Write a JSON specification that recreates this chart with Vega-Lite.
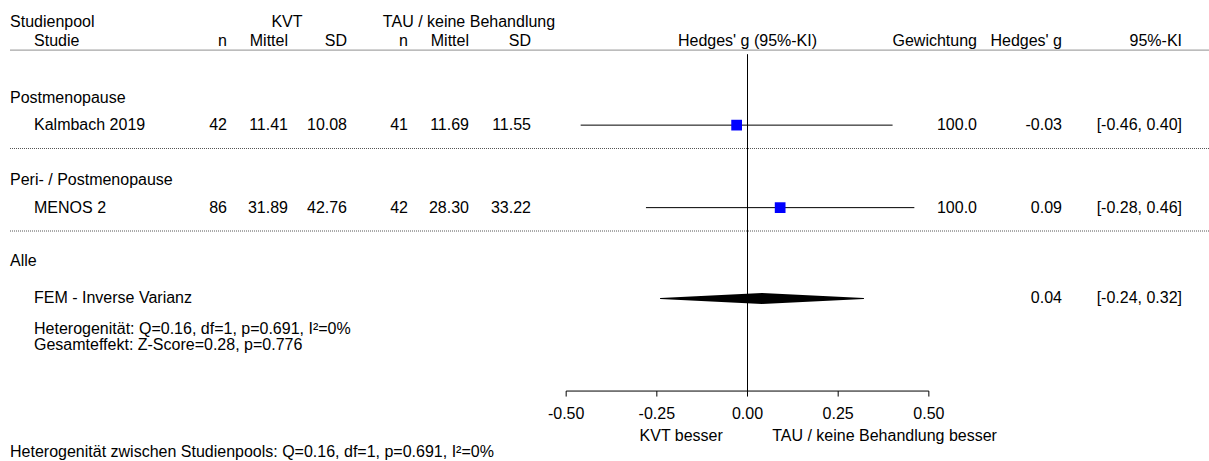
{
  "$schema": "https://vega.github.io/schema/vega-lite/v6.json",
  "width": 1209,
  "height": 461,
  "padding": 0,
  "autosize": "none",
  "background": "white",
  "config": {
    "view": {"stroke": null},
    "text": {"font": "Liberation Sans", "fontSize": 16, "baseline": "middle", "color": "#000000"}
  },
  "datasets": {
    "zeilen": [
      {"typ": "Studie", "label": "Kalmbach 2019", "row": 4, "n1": 42, "mean1": 11.41, "sd1": 10.08, "n2": 41, "mean2": 11.69, "sd2": 11.55, "weight": 100.0, "g": -0.03, "lo": -0.46, "hi": 0.40, "gText": "-0.03", "ci": "[-0.46, 0.40]"},
      {"typ": "Studie", "label": "MENOS 2", "row": 7, "n1": 86, "mean1": 31.89, "sd1": 42.76, "n2": 42, "mean2": 28.30, "sd2": 33.22, "weight": 100.0, "g": 0.09, "lo": -0.28, "hi": 0.46, "gText": "0.09", "ci": "[-0.28, 0.46]"},
      {"typ": "Gesamt", "label": "FEM - Inverse Varianz", "row": 10.3, "g": 0.04, "lo": -0.24, "hi": 0.32, "gText": "0.04", "ci": "[-0.24, 0.32]"}
    ],
    "kopf": [
      {"spalte": "pool", "text": "Studienpool", "row": 0.25},
      {"spalte": "name", "text": "Studie", "row": 0.95},
      {"spalte": "kvt", "text": "KVT", "row": 0.25},
      {"spalte": "tau", "text": "TAU / keine Behandlung", "row": 0.25},
      {"spalte": "n1", "text": "n", "row": 0.95},
      {"spalte": "mean1", "text": "Mittel", "row": 0.95},
      {"spalte": "sd1", "text": "SD", "row": 0.95},
      {"spalte": "n2", "text": "n", "row": 0.95},
      {"spalte": "mean2", "text": "Mittel", "row": 0.95},
      {"spalte": "sd2", "text": "SD", "row": 0.95},
      {"spalte": "forest", "text": "Hedges' g (95%-KI)", "row": 0.95},
      {"spalte": "weight", "text": "Gewichtung", "row": 0.95},
      {"spalte": "gText", "text": "Hedges' g", "row": 0.95},
      {"spalte": "ci", "text": "95%-KI", "row": 0.95}
    ],
    "links": [
      {"text": "Postmenopause", "row": 3},
      {"text": "Peri- / Postmenopause", "row": 6},
      {"text": "Alle", "row": 8.95},
      {"text": "Heterogenität zwischen Studienpools: Q=0.16, df=1, p=0.691, I²=0%", "row": 15.9}
    ],
    "notizen": [
      {"text": "Heterogenität: Q=0.16, df=1, p=0.691, I²=0%", "row": 11.42},
      {"text": "Gesamteffekt: Z-Score=0.28, p=0.776", "row": 11.99}
    ],
    "linien": [
      {"art": "Kopf", "row": 1.27},
      {"art": "Trenner", "row": 4.85},
      {"art": "Trenner", "row": 7.85}
    ],
    "referenz": [{"wert": 0}],
    "achse": [
      {"tick": -0.5, "label": "-0.50"},
      {"tick": -0.25, "label": "-0.25"},
      {"tick": 0, "label": "0.00"},
      {"tick": 0.25, "label": "0.25"},
      {"tick": 0.5, "label": "0.50"}
    ],
    "seiten": [
      {"seite": "links", "text": "KVT besser"},
      {"seite": "rechts", "text": "TAU / keine Behandlung besser"}
    ]
  },
  "layer": [
    {
      "data": {"name": "linien"},
      "transform": [{"filter": "datum.art === 'Kopf'"}],
      "mark": {"type": "rule", "color": "#a6a6a6", "strokeWidth": 1.2},
      "encoding": {
        "x": {"datum": -2.0334, "type": "quantitative", "scale": {"domain": [-2.061, 1.2724], "nice": false, "zero": false}, "axis": null},
        "x2": {"datum": 1.2724},
        "y": {"field": "row", "type": "quantitative", "scale": {"domain": [-0.55, 16.2136], "reverse": true, "nice": false, "zero": false}, "axis": null}
      }
    },
    {
      "data": {"name": "linien"},
      "transform": [{"filter": "datum.art === 'Trenner'"}],
      "mark": {"type": "rule", "color": "#555555", "strokeWidth": 1, "strokeDash": [1, 1]},
      "encoding": {
        "x": {"datum": -2.0334, "type": "quantitative", "scale": {"domain": [-2.061, 1.2724], "nice": false, "zero": false}, "axis": null},
        "x2": {"datum": 1.2724},
        "y": {"field": "row", "type": "quantitative", "scale": {"domain": [-0.55, 16.2136], "reverse": true, "nice": false, "zero": false}, "axis": null}
      }
    },
    {
      "data": {"name": "referenz"},
      "mark": {"type": "rule", "color": "#000000", "strokeWidth": 1},
      "encoding": {
        "x": {"field": "wert", "type": "quantitative", "scale": {"domain": [-2.061, 1.2724], "nice": false, "zero": false}, "axis": null},
        "y": {"datum": 1.42, "type": "quantitative", "scale": {"domain": [-0.55, 16.2136], "reverse": true, "nice": false, "zero": false}, "axis": null},
        "y2": {"datum": 13.67}
      }
    },
    {
      "data": {"name": "achse"},
      "transform": [{"aggregate": [{"op": "min", "field": "tick", "as": "von"}, {"op": "max", "field": "tick", "as": "bis"}]}],
      "mark": {"type": "rule", "color": "#000000", "strokeWidth": 1},
      "encoding": {
        "x": {"field": "von", "type": "quantitative", "scale": {"domain": [-2.061, 1.2724], "nice": false, "zero": false}, "axis": null},
        "x2": {"field": "bis"},
        "y": {"datum": 13.67, "type": "quantitative", "scale": {"domain": [-0.55, 16.2136], "reverse": true, "nice": false, "zero": false}, "axis": null}
      }
    },
    {
      "data": {"name": "achse"},
      "mark": {"type": "rule", "color": "#000000", "strokeWidth": 1},
      "encoding": {
        "x": {"field": "tick", "type": "quantitative", "scale": {"domain": [-2.061, 1.2724], "nice": false, "zero": false}, "axis": null},
        "y": {"datum": 13.67, "type": "quantitative", "scale": {"domain": [-0.55, 16.2136], "reverse": true, "nice": false, "zero": false}, "axis": null},
        "y2": {"datum": 13.87}
      }
    },
    {
      "data": {"name": "achse"},
      "mark": {"type": "text", "align": "center"},
      "encoding": {
        "x": {"field": "tick", "type": "quantitative", "scale": {"domain": [-2.061, 1.2724], "nice": false, "zero": false}, "axis": null},
        "y": {"datum": 14.5, "type": "quantitative", "scale": {"domain": [-0.55, 16.2136], "reverse": true, "nice": false, "zero": false}, "axis": null},
        "text": {"field": "label"}
      }
    },
    {
      "data": {"name": "seiten"},
      "transform": [{"filter": "datum.seite === 'links'"}],
      "mark": {"type": "text", "align": "right"},
      "encoding": {
        "x": {"datum": -0.068, "type": "quantitative", "scale": {"domain": [-2.061, 1.2724], "nice": false, "zero": false}, "axis": null},
        "y": {"datum": 15.3, "type": "quantitative", "scale": {"domain": [-0.55, 16.2136], "reverse": true, "nice": false, "zero": false}, "axis": null},
        "text": {"field": "text"}
      }
    },
    {
      "data": {"name": "seiten"},
      "transform": [{"filter": "datum.seite === 'rechts'"}],
      "mark": {"type": "text", "align": "left"},
      "encoding": {
        "x": {"datum": 0.068, "type": "quantitative", "scale": {"domain": [-2.061, 1.2724], "nice": false, "zero": false}, "axis": null},
        "y": {"datum": 15.3, "type": "quantitative", "scale": {"domain": [-0.55, 16.2136], "reverse": true, "nice": false, "zero": false}, "axis": null},
        "text": {"field": "text"}
      }
    },
    {
      "data": {"name": "zeilen"},
      "transform": [{"filter": "datum.typ === 'Studie'"}],
      "mark": {"type": "rule", "color": "#000000", "strokeWidth": 1},
      "encoding": {
        "x": {"field": "lo", "type": "quantitative", "scale": {"domain": [-2.061, 1.2724], "nice": false, "zero": false}, "axis": null},
        "x2": {"field": "hi"},
        "y": {"field": "row", "type": "quantitative", "scale": {"domain": [-0.55, 16.2136], "reverse": true, "nice": false, "zero": false}, "axis": null}
      }
    },
    {
      "data": {"name": "zeilen"},
      "transform": [{"filter": "datum.typ === 'Studie'"}],
      "mark": {"type": "point", "shape": "square", "filled": true, "color": "#0000ff", "opacity": 1, "size": 115},
      "encoding": {
        "x": {"field": "g", "type": "quantitative", "scale": {"domain": [-2.061, 1.2724], "nice": false, "zero": false}, "axis": null},
        "y": {"field": "row", "type": "quantitative", "scale": {"domain": [-0.55, 16.2136], "reverse": true, "nice": false, "zero": false}, "axis": null}
      }
    },
    {
      "data": {"name": "zeilen"},
      "transform": [
        {"filter": "datum.typ === 'Gesamt'"},
        {"fold": ["lo", "g", "hi"], "as": ["punkt", "wert"]}
      ],
      "mark": {"type": "trail", "color": "#000000"},
      "encoding": {
        "x": {"field": "wert", "type": "quantitative", "scale": {"domain": [-2.061, 1.2724], "nice": false, "zero": false}, "axis": null},
        "y": {"field": "row", "type": "quantitative", "scale": {"domain": [-0.55, 16.2136], "reverse": true, "nice": false, "zero": false}, "axis": null},
        "size": {"condition": {"test": "datum.punkt === 'g'", "value": 11}, "value": 0}
      }
    },
    {
      "encoding": {"x": {"datum": -2.0334, "type": "quantitative", "scale": {"domain": [-2.061, 1.2724], "nice": false, "zero": false}, "axis": null}},
      "layer": [
        {
          "data": {"name": "kopf"},
          "transform": [{"filter": "datum.spalte === 'pool'"}],
          "mark": {"type": "text", "align": "left"},
          "encoding": {"y": {"field": "row", "type": "quantitative", "scale": {"domain": [-0.55, 16.2136], "reverse": true, "nice": false, "zero": false}, "axis": null}, "text": {"field": "text"}}
        },
        {
          "data": {"name": "links"},
          "mark": {"type": "text", "align": "left"},
          "encoding": {"y": {"field": "row", "type": "quantitative", "scale": {"domain": [-0.55, 16.2136], "reverse": true, "nice": false, "zero": false}, "axis": null}, "text": {"field": "text"}}
        }
      ]
    },
    {
      "encoding": {"x": {"datum": -1.9672, "type": "quantitative", "scale": {"domain": [-2.061, 1.2724], "nice": false, "zero": false}, "axis": null}},
      "layer": [
        {
          "data": {"name": "kopf"},
          "transform": [{"filter": "datum.spalte === 'name'"}],
          "mark": {"type": "text", "align": "left"},
          "encoding": {"y": {"field": "row", "type": "quantitative", "scale": {"domain": [-0.55, 16.2136], "reverse": true, "nice": false, "zero": false}, "axis": null}, "text": {"field": "text"}}
        },
        {
          "data": {"name": "zeilen"},
          "mark": {"type": "text", "align": "left"},
          "encoding": {"y": {"field": "row", "type": "quantitative", "scale": {"domain": [-0.55, 16.2136], "reverse": true, "nice": false, "zero": false}, "axis": null}, "text": {"field": "label"}}
        },
        {
          "data": {"name": "notizen"},
          "mark": {"type": "text", "align": "left"},
          "encoding": {"y": {"field": "row", "type": "quantitative", "scale": {"domain": [-0.55, 16.2136], "reverse": true, "nice": false, "zero": false}, "axis": null}, "text": {"field": "text"}}
        }
      ]
    },
    {
      "data": {"name": "kopf"},
      "transform": [{"filter": "datum.spalte === 'kvt'"}],
      "mark": {"type": "text", "align": "center"},
      "encoding": {
        "x": {"datum": -1.2697, "type": "quantitative", "scale": {"domain": [-2.061, 1.2724], "nice": false, "zero": false}, "axis": null},
        "y": {"field": "row", "type": "quantitative", "scale": {"domain": [-0.55, 16.2136], "reverse": true, "nice": false, "zero": false}, "axis": null},
        "text": {"field": "text"}
      }
    },
    {
      "data": {"name": "kopf"},
      "transform": [{"filter": "datum.spalte === 'tau'"}],
      "mark": {"type": "text", "align": "center"},
      "encoding": {
        "x": {"datum": -0.7679, "type": "quantitative", "scale": {"domain": [-2.061, 1.2724], "nice": false, "zero": false}, "axis": null},
        "y": {"field": "row", "type": "quantitative", "scale": {"domain": [-0.55, 16.2136], "reverse": true, "nice": false, "zero": false}, "axis": null},
        "text": {"field": "text"}
      }
    },
    {
      "data": {"name": "kopf"},
      "transform": [{"filter": "datum.spalte === 'forest'"}],
      "mark": {"type": "text", "align": "center"},
      "encoding": {
        "x": {"datum": 0, "type": "quantitative", "scale": {"domain": [-2.061, 1.2724], "nice": false, "zero": false}, "axis": null},
        "y": {"field": "row", "type": "quantitative", "scale": {"domain": [-0.55, 16.2136], "reverse": true, "nice": false, "zero": false}, "axis": null},
        "text": {"field": "text"}
      }
    },
    {
      "encoding": {"x": {"datum": -1.4351, "type": "quantitative", "scale": {"domain": [-2.061, 1.2724], "nice": false, "zero": false}, "axis": null}},
      "layer": [
        {"data": {"name": "kopf"}, "transform": [{"filter": "datum.spalte === 'n1'"}], "mark": {"type": "text", "align": "right"},
         "encoding": {"y": {"field": "row", "type": "quantitative", "scale": {"domain": [-0.55, 16.2136], "reverse": true, "nice": false, "zero": false}, "axis": null}, "text": {"field": "text"}}},
        {"data": {"name": "zeilen"}, "transform": [{"filter": "datum.typ === 'Studie'"}], "mark": {"type": "text", "align": "right"},
         "encoding": {"y": {"field": "row", "type": "quantitative", "scale": {"domain": [-0.55, 16.2136], "reverse": true, "nice": false, "zero": false}, "axis": null}, "text": {"field": "n1", "type": "quantitative", "format": "d"}}}
      ]
    },
    {
      "encoding": {"x": {"datum": -1.2669, "type": "quantitative", "scale": {"domain": [-2.061, 1.2724], "nice": false, "zero": false}, "axis": null}},
      "layer": [
        {"data": {"name": "kopf"}, "transform": [{"filter": "datum.spalte === 'mean1'"}], "mark": {"type": "text", "align": "right"},
         "encoding": {"y": {"field": "row", "type": "quantitative", "scale": {"domain": [-0.55, 16.2136], "reverse": true, "nice": false, "zero": false}, "axis": null}, "text": {"field": "text"}}},
        {"data": {"name": "zeilen"}, "transform": [{"filter": "datum.typ === 'Studie'"}], "mark": {"type": "text", "align": "right"},
         "encoding": {"y": {"field": "row", "type": "quantitative", "scale": {"domain": [-0.55, 16.2136], "reverse": true, "nice": false, "zero": false}, "axis": null}, "text": {"field": "mean1", "type": "quantitative", "format": ".2f"}}}
      ]
    },
    {
      "encoding": {"x": {"datum": -1.1042, "type": "quantitative", "scale": {"domain": [-2.061, 1.2724], "nice": false, "zero": false}, "axis": null}},
      "layer": [
        {"data": {"name": "kopf"}, "transform": [{"filter": "datum.spalte === 'sd1'"}], "mark": {"type": "text", "align": "right"},
         "encoding": {"y": {"field": "row", "type": "quantitative", "scale": {"domain": [-0.55, 16.2136], "reverse": true, "nice": false, "zero": false}, "axis": null}, "text": {"field": "text"}}},
        {"data": {"name": "zeilen"}, "transform": [{"filter": "datum.typ === 'Studie'"}], "mark": {"type": "text", "align": "right"},
         "encoding": {"y": {"field": "row", "type": "quantitative", "scale": {"domain": [-0.55, 16.2136], "reverse": true, "nice": false, "zero": false}, "axis": null}, "text": {"field": "sd1", "type": "quantitative", "format": ".2f"}}}
      ]
    },
    {
      "encoding": {"x": {"datum": -0.9361, "type": "quantitative", "scale": {"domain": [-2.061, 1.2724], "nice": false, "zero": false}, "axis": null}},
      "layer": [
        {"data": {"name": "kopf"}, "transform": [{"filter": "datum.spalte === 'n2'"}], "mark": {"type": "text", "align": "right"},
         "encoding": {"y": {"field": "row", "type": "quantitative", "scale": {"domain": [-0.55, 16.2136], "reverse": true, "nice": false, "zero": false}, "axis": null}, "text": {"field": "text"}}},
        {"data": {"name": "zeilen"}, "transform": [{"filter": "datum.typ === 'Studie'"}], "mark": {"type": "text", "align": "right"},
         "encoding": {"y": {"field": "row", "type": "quantitative", "scale": {"domain": [-0.55, 16.2136], "reverse": true, "nice": false, "zero": false}, "axis": null}, "text": {"field": "n2", "type": "quantitative", "format": "d"}}}
      ]
    },
    {
      "encoding": {"x": {"datum": -0.7679, "type": "quantitative", "scale": {"domain": [-2.061, 1.2724], "nice": false, "zero": false}, "axis": null}},
      "layer": [
        {"data": {"name": "kopf"}, "transform": [{"filter": "datum.spalte === 'mean2'"}], "mark": {"type": "text", "align": "right"},
         "encoding": {"y": {"field": "row", "type": "quantitative", "scale": {"domain": [-0.55, 16.2136], "reverse": true, "nice": false, "zero": false}, "axis": null}, "text": {"field": "text"}}},
        {"data": {"name": "zeilen"}, "transform": [{"filter": "datum.typ === 'Studie'"}], "mark": {"type": "text", "align": "right"},
         "encoding": {"y": {"field": "row", "type": "quantitative", "scale": {"domain": [-0.55, 16.2136], "reverse": true, "nice": false, "zero": false}, "axis": null}, "text": {"field": "mean2", "type": "quantitative", "format": ".2f"}}}
      ]
    },
    {
      "encoding": {"x": {"datum": -0.5969, "type": "quantitative", "scale": {"domain": [-2.061, 1.2724], "nice": false, "zero": false}, "axis": null}},
      "layer": [
        {"data": {"name": "kopf"}, "transform": [{"filter": "datum.spalte === 'sd2'"}], "mark": {"type": "text", "align": "right"},
         "encoding": {"y": {"field": "row", "type": "quantitative", "scale": {"domain": [-0.55, 16.2136], "reverse": true, "nice": false, "zero": false}, "axis": null}, "text": {"field": "text"}}},
        {"data": {"name": "zeilen"}, "transform": [{"filter": "datum.typ === 'Studie'"}], "mark": {"type": "text", "align": "right"},
         "encoding": {"y": {"field": "row", "type": "quantitative", "scale": {"domain": [-0.55, 16.2136], "reverse": true, "nice": false, "zero": false}, "axis": null}, "text": {"field": "sd2", "type": "quantitative", "format": ".2f"}}}
      ]
    },
    {
      "encoding": {"x": {"datum": 0.6328, "type": "quantitative", "scale": {"domain": [-2.061, 1.2724], "nice": false, "zero": false}, "axis": null}},
      "layer": [
        {"data": {"name": "kopf"}, "transform": [{"filter": "datum.spalte === 'weight'"}], "mark": {"type": "text", "align": "right"},
         "encoding": {"y": {"field": "row", "type": "quantitative", "scale": {"domain": [-0.55, 16.2136], "reverse": true, "nice": false, "zero": false}, "axis": null}, "text": {"field": "text"}}},
        {"data": {"name": "zeilen"}, "transform": [{"filter": "datum.typ === 'Studie'"}], "mark": {"type": "text", "align": "right"},
         "encoding": {"y": {"field": "row", "type": "quantitative", "scale": {"domain": [-0.55, 16.2136], "reverse": true, "nice": false, "zero": false}, "axis": null}, "text": {"field": "weight", "type": "quantitative", "format": ".1f"}}}
      ]
    },
    {
      "encoding": {"x": {"datum": 0.8671, "type": "quantitative", "scale": {"domain": [-2.061, 1.2724], "nice": false, "zero": false}, "axis": null}},
      "layer": [
        {"data": {"name": "kopf"}, "transform": [{"filter": "datum.spalte === 'gText'"}], "mark": {"type": "text", "align": "right"},
         "encoding": {"y": {"field": "row", "type": "quantitative", "scale": {"domain": [-0.55, 16.2136], "reverse": true, "nice": false, "zero": false}, "axis": null}, "text": {"field": "text"}}},
        {"data": {"name": "zeilen"}, "mark": {"type": "text", "align": "right"},
         "encoding": {"y": {"field": "row", "type": "quantitative", "scale": {"domain": [-0.55, 16.2136], "reverse": true, "nice": false, "zero": false}, "axis": null}, "text": {"field": "gText"}}}
      ]
    },
    {
      "encoding": {"x": {"datum": 1.198, "type": "quantitative", "scale": {"domain": [-2.061, 1.2724], "nice": false, "zero": false}, "axis": null}},
      "layer": [
        {"data": {"name": "kopf"}, "transform": [{"filter": "datum.spalte === 'ci'"}], "mark": {"type": "text", "align": "right"},
         "encoding": {"y": {"field": "row", "type": "quantitative", "scale": {"domain": [-0.55, 16.2136], "reverse": true, "nice": false, "zero": false}, "axis": null}, "text": {"field": "text"}}},
        {"data": {"name": "zeilen"}, "mark": {"type": "text", "align": "right"},
         "encoding": {"y": {"field": "row", "type": "quantitative", "scale": {"domain": [-0.55, 16.2136], "reverse": true, "nice": false, "zero": false}, "axis": null}, "text": {"field": "ci"}}}
      ]
    }
  ]
}
